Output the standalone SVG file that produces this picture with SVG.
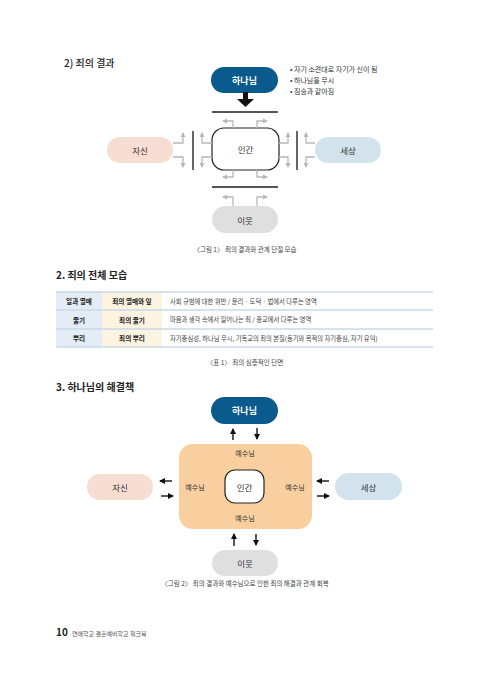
<svg xmlns="http://www.w3.org/2000/svg" width="500" height="684" viewBox="0 0 500 684">
<style>
text{font-family:"Noto Sans CJK KR","Noto Sans",sans-serif;fill:#333}
.h{font-size:10px;font-weight:700;fill:#222}
.nd{font-size:8.5px;text-anchor:middle;dominant-baseline:central}
.wt{fill:#fff;font-weight:700;font-size:9px}
.cap{font-size:6.5px;text-anchor:middle;fill:#444}
.bl{font-size:7px;fill:#333}
.tb{font-size:6.6px;font-weight:700;text-anchor:middle;dominant-baseline:central;fill:#222}
.tt{font-size:6.3px;dominant-baseline:central;fill:#444}
.ys{font-size:7px;text-anchor:middle;dominant-baseline:central;fill:#333}
.ga{fill:none;stroke:#b8b8b8;stroke-width:1.3;marker-end:url(#gh)}
.ba{fill:none;stroke:#111;stroke-width:1.4;marker-end:url(#bh)}
.dl{stroke:#555;stroke-width:1.8}
.tl{stroke:#c9d9e6;stroke-width:1.3}
</style>
<defs>
<marker id="gh" markerUnits="userSpaceOnUse" markerWidth="6" markerHeight="6" refX="4" refY="3" orient="auto"><path d="M0,0.5 L5,3 L0,5.5 Z" fill="#b8b8b8"/></marker>
<marker id="bh" markerUnits="userSpaceOnUse" markerWidth="7" markerHeight="7" refX="5" refY="3.5" orient="auto"><path d="M0,0.5 L6,3.5 L0,6.5 Z" fill="#111"/></marker>
</defs>

<text class="h" x="64" y="67" style="font-weight:500">2) 죄의 결과</text>

<g id="fig1-bullets">
<text class="bl" x="290" y="72">• 자기 소견대로 자기가 신이 됨</text>
<text class="bl" x="290" y="83">• 하나님을 무시</text>
<text class="bl" x="290" y="94">• 짐승과 같아짐</text>
</g>

<g id="fig1-god"><rect x="211" y="67" width="67" height="26" rx="13" fill="#0a5a8e"/><text class="nd wt" x="244.5" y="80">하나님</text></g>
<g id="fig1-human"><rect x="212" y="128" width="67" height="42" rx="12" fill="#fff" stroke="#222" stroke-width="1.2"/><text class="nd" x="245.5" y="149">인간</text></g>
<g id="fig1-self"><rect x="107" y="137" width="66" height="26" rx="13" fill="#f7ddd2"/><text class="nd" x="140" y="150">자신</text></g>
<g id="fig1-world"><rect x="315" y="137" width="66" height="26" rx="13" fill="#d3e3ed"/><text class="nd" x="348" y="150">세상</text></g>
<g id="fig1-neighbor"><rect x="212" y="206" width="66" height="27" rx="13.5" fill="#dfdfdf"/><text class="nd" x="245" y="219.5">이웃</text></g>

<g id="fig1-connectors">
<path d="M243,92 H248 V99 H254 L245.5,107 L237,99 H243 Z" fill="#111"/>
<line class="dl" x1="212" y1="112" x2="278" y2="112"/>
<line class="dl" x1="212" y1="187" x2="278" y2="187"/>
<line class="dl" x1="193" y1="131" x2="193" y2="170"/>
<line class="dl" x1="297" y1="131" x2="297" y2="170"/>
<path class="ga" d="M233,128 V121 H223"/>
<path class="ga" d="M257,128 V121 H267"/>
<path class="ga" d="M233,170 V177 H223"/>
<path class="ga" d="M257,170 V177 H267"/>
<path class="ga" d="M233,206 V197 H223"/>
<path class="ga" d="M257,206 V197 H267"/>
<path class="ga" d="M173,143 H183 V133"/>
<path class="ga" d="M173,157 H183 V167"/>
<path class="ga" d="M212,143 H202 V133"/>
<path class="ga" d="M212,157 H202 V167"/>
<path class="ga" d="M279,143 H288 V133"/>
<path class="ga" d="M279,157 H288 V167"/>
<path class="ga" d="M315,143 H306 V133"/>
<path class="ga" d="M315,157 H306 V167"/>
</g>

<text class="cap" x="245" y="252">〈그림 1〉 죄의 결과와 관계 단절 모습</text>

<text class="h" x="56" y="279">2. 죄의 전체 모습</text>

<g id="table">
<rect x="56" y="292" width="46" height="55" fill="#e4edf5"/>
<rect x="102" y="292" width="60" height="55" fill="#fdf3e1"/>
<line class="tl" x1="56" y1="292" x2="433" y2="292"/>
<line class="tl" x1="56" y1="310" x2="433" y2="310"/>
<line class="tl" x1="56" y1="329" x2="433" y2="329"/>
<line class="tl" x1="56" y1="347" x2="433" y2="347"/>
<text class="tb" x="79" y="301">일과 열매</text>
<text class="tb" x="132" y="301">죄의 열매와 잎</text>
<text class="tt" x="170" y="301">사회 규범에 대한 위반 / 윤리 · 도덕 · 법에서 다루는 영역</text>
<text class="tb" x="79" y="319.5">줄기</text>
<text class="tb" x="132" y="319.5">죄의 줄기</text>
<text class="tt" x="170" y="319.5">마음과 생각 속에서 일어나는 죄 / 종교에서 다루는 영역</text>
<text class="tb" x="79" y="338">뿌리</text>
<text class="tb" x="132" y="338">죄의 뿌리</text>
<text class="tt" x="170" y="338">자기중심성, 하나님 무시, 기독교의 죄의 본질(동기와 목적의 자기중심, 자기 유익)</text>
</g>

<text class="cap" x="245" y="365">〈표 1〉 죄의 심층적인 단면</text>

<text class="h" x="56" y="391">3. 하나님의 해결책</text>

<g id="fig2-jesus"><rect x="179" y="444" width="133" height="85" rx="14" fill="#f9cf9f"/>
<text class="ys" x="245" y="453">예수님</text>
<text class="ys" x="195" y="487">예수님</text>
<text class="ys" x="295" y="487">예수님</text>
<text class="ys" x="245" y="518">예수님</text></g>
<g id="fig2-god"><rect x="211" y="397" width="67" height="27" rx="13.5" fill="#0a5a8e"/><text class="nd wt" x="244.5" y="410.5">하나님</text></g>
<g id="fig2-human"><rect x="225" y="470" width="39" height="33" rx="10" fill="#fff" stroke="#222" stroke-width="1.2"/><text class="nd" x="244.5" y="486.5">인간</text></g>
<g id="fig2-self"><rect x="87" y="474" width="66" height="26" rx="13" fill="#f7ddd2"/><text class="nd" x="120" y="487">자신</text></g>
<g id="fig2-world"><rect x="335" y="473" width="67" height="27" rx="13.5" fill="#d3e3ed"/><text class="nd" x="368.5" y="486.5">세상</text></g>
<g id="fig2-neighbor"><rect x="212" y="550" width="66" height="26" rx="13" fill="#dfdfdf"/><text class="nd" x="245" y="563">이웃</text></g>

<g id="fig2-connectors">
<path class="ba" d="M233,440 V429"/>
<path class="ba" d="M257,428 V439"/>
<path class="ba" d="M172,481 H160"/>
<path class="ba" d="M161,496 H173"/>
<path class="ba" d="M329,481 H317"/>
<path class="ba" d="M317,496 H329"/>
<path class="ba" d="M234,546 V534"/>
<path class="ba" d="M256,534 V545"/>
</g>

<text class="cap" x="245" y="586">〈그림 2〉 죄의 결과와 예수님으로 인한 죄의 해결과 관계 회복</text>

<g id="footer">
<text x="56" y="636" style="font-size:10px;font-weight:700;fill:#222">10</text>
<text x="72" y="635.5" style="font-size:6px;fill:#555">연애학교 결혼예비학교 워크북</text>
</g>
</svg>
